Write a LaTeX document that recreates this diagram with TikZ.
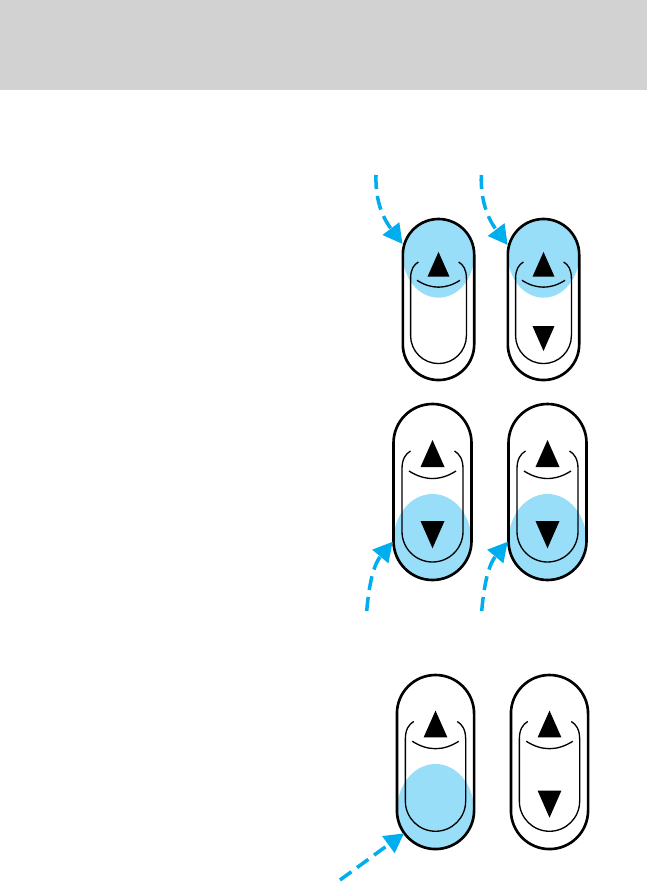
\documentclass[tikz,border=0pt]{standalone}
\usepackage{xcolor}
\usetikzlibrary{arrows.meta}
\definecolor{band}{RGB}{210,210,210}
\definecolor{callout}{RGB}{0,174,239}
\definecolor{lit}{RGB}{153,222,248}

\tikzset{
  swa/.style={shift={(438.5,-219)},scale=0.915},
  swb/.style={shift={(543.5,-219)},scale=0.915},
  swc/.style={shift={(432.5,-404)},scale=1},
  swd/.style={shift={(547.5,-404)},scale=1},
  swe/.style={shift={(435.5,-675)},scale=0.989},
  swf/.style={shift={(549.5,-675)},scale=0.989},
  outerline/.style={black, line width=1.5pt},
  innerline/.style={black, line width=0.75pt},
  calloutarrow/.style={callout, line width=2pt, dash pattern=on 8pt off 4pt,
    -{Triangle[length=11pt,width=11.5pt]}},
}

\begin{document}
\begin{tikzpicture}[x=0.02cm,y=0.02cm]
\useasboundingbox (0,0) rectangle (647,-882);

%% -- grey band at the top of the page --
\fill[band] (0,0) rectangle (647,-90);

% each switch is drawn from the top centre of its outer outline,
% height 176 and half width 39 before scaling.

%% -- lit part of the pressed switches --
\foreach \sw/\lity in {swa/-39, swb/-39, swc/-137, swd/-137, swe/-137}{
  \begin{scope}[\sw]
    \clip (-39,-39) arc[start angle=180,end angle=0,radius=39] -- (39,-137)
      arc[start angle=0,end angle=-180,radius=39] -- cycle;
    \fill[lit] (0,\lity) ellipse[x radius=39,y radius=47];
  \end{scope}
}

%% -- outlines, finger recess and up triangle --
\foreach \sw in {swa,swb,swc,swd,swe,swf}{
  \begin{scope}[\sw]
    \draw[outerline] (-39,-39) arc[start angle=180,end angle=0,radius=39] -- (39,-137)
      arc[start angle=0,end angle=-180,radius=39] -- cycle;
    \draw[innerline] (-22,-47) .. controls (-27,-50) and (-30.5,-55) .. (-30.5,-65)
      -- (-30.5,-127.5) arc[start angle=180,end angle=360,radius=30.5] -- (30.5,-65)
      .. controls (30.5,-55) and (27,-50) .. (22,-47);
    \draw[innerline] (-23.5,-67) .. controls (-8,-77) and (8,-77) .. (23.5,-67);
    \fill[black] (0,-36) -- (12,-63) -- (-12,-63) -- cycle;
  \end{scope}
}

%% -- down triangle (not on every switch) --
\foreach \sw in {swb,swc,swd,swf}{
  \begin{scope}[\sw]
    \fill[black] (0,-144.3) -- (12,-117) -- (-12,-117) -- cycle;
  \end{scope}
}

%% -- callout arrows --
\coordinate (starta) at (376,-175);
\coordinate (tipa) at (402.5,-244);
\coordinate (startb) at (481.3,-175);
\coordinate (tipb) at (507.7,-245);
\coordinate (startc) at (366.7,-611);
\coordinate (tipc) at (392.7,-541.7);
\coordinate (startd) at (481.7,-611);
\coordinate (tipd) at (507.7,-541.7);
\coordinate (starte) at (340,-880);
\coordinate (tipe) at (404,-833.3);

\draw[calloutarrow] (starta) to[out=268,in=127] (tipa);
\draw[calloutarrow] (startb) to[out=268,in=127] (tipb);
\draw[calloutarrow] (startc) to[out=85,in=230] (tipc);
\draw[calloutarrow] (startd) to[out=85,in=230] (tipd);
\draw[calloutarrow] (starte) -- (tipe);

\end{tikzpicture}
\end{document}
